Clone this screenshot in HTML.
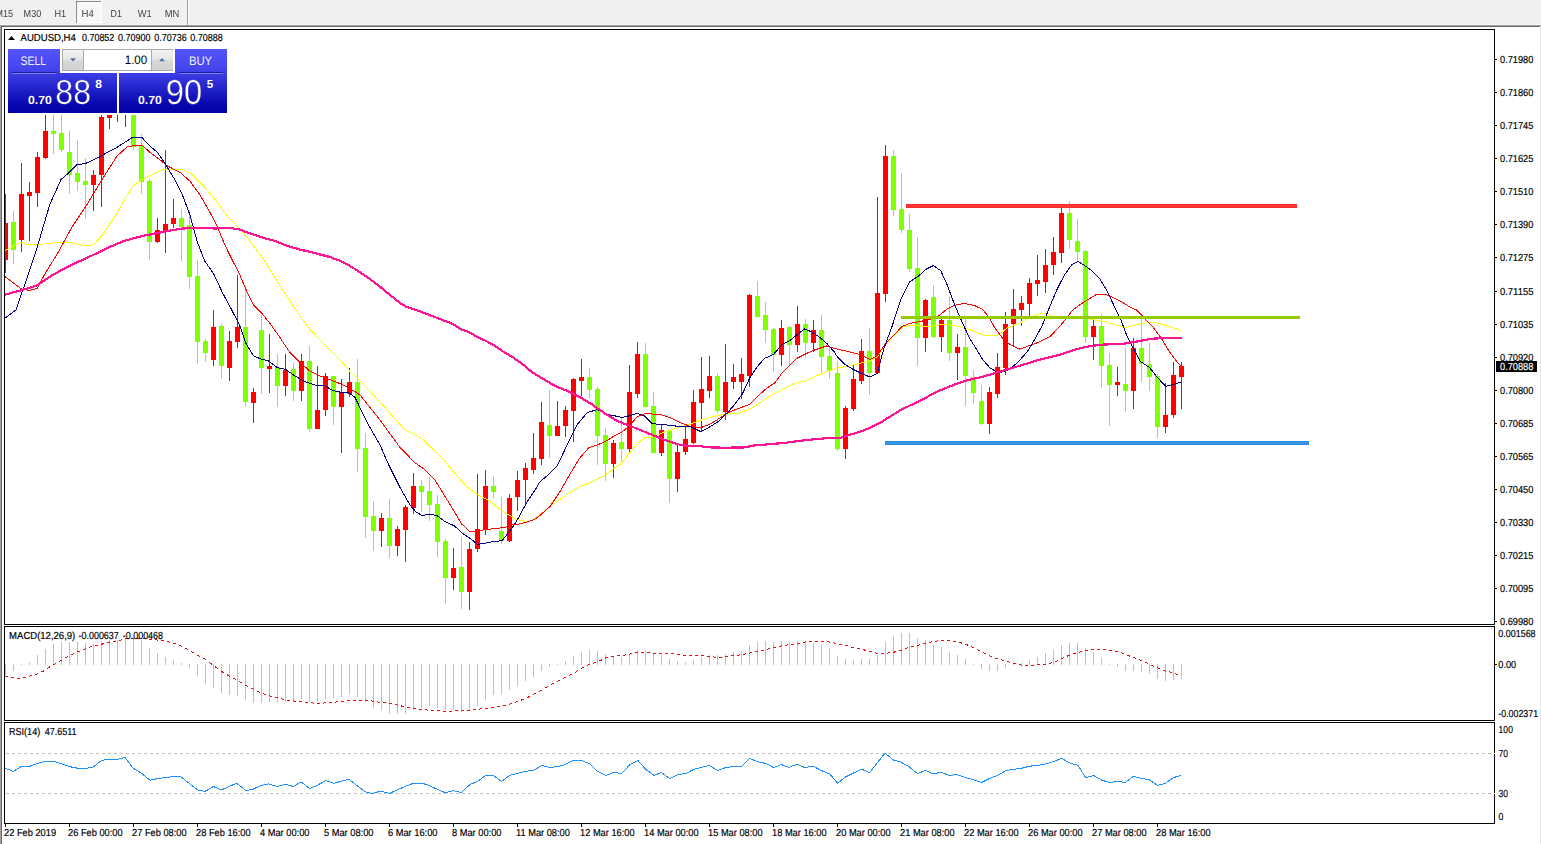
<!DOCTYPE html>
<html><head><meta charset="utf-8"><title>AUDUSD,H4</title>
<style>
html,body{margin:0;padding:0;background:#fff;overflow:hidden}
body{width:1541px;height:844px;position:relative;font-family:"Liberation Sans",sans-serif}
svg{position:absolute;left:0;top:0;display:block}
text{font-family:"Liberation Sans",sans-serif;text-rendering:geometricPrecision}
.ce{shape-rendering:crispEdges}
</style></head><body>
<svg width="1541" height="844" viewBox="0 0 1541 844">
<defs>
<pattern id="chk" width="2" height="2" patternUnits="userSpaceOnUse"><rect width="2" height="2" fill="#f0f0f0"/><rect width="1" height="1" fill="#fff"/><rect x="1" y="1" width="1" height="1" fill="#fff"/></pattern>
<pattern id="dp" x="5" y="0" width="6" height="100" patternUnits="userSpaceOnUse"><rect x="0" y="0" width="3" height="100" fill="#fff"/></pattern>
<mask id="dm" maskUnits="userSpaceOnUse" x="0" y="620" width="1500" height="110"><rect x="0" y="620" width="1500" height="110" fill="url(#dp)"/></mask>
<clipPath id="cm"><rect x="5" y="30" width="1489" height="594"/></clipPath>
<clipPath id="cd"><rect x="5" y="627" width="1489" height="93"/></clipPath>
<clipPath id="cr"><rect x="5" y="723" width="1489" height="100"/></clipPath>
</defs>
<g class="ce">
<rect x="0" y="0" width="1541" height="844" fill="#fff"/>
<rect x="0" y="0" width="1541" height="25" fill="#f0f0f0"/>
<rect x="0" y="24" width="1541" height="1" fill="#f6f6f6"/>
<rect x="0" y="25" width="1541" height="1" fill="#a0a0a0"/>
<rect x="0" y="26" width="1541" height="1" fill="#696969"/>
<rect x="0" y="25" width="1" height="819" fill="#a0a0a0"/>
<rect x="1" y="26" width="1" height="818" fill="#696969"/>
<rect x="1540" y="27" width="1" height="817" fill="#e3e3e3"/>
<rect x="1540" y="26" width="1" height="1" fill="#fff"/>
<rect x="77" y="2" width="24" height="20" fill="url(#chk)"/>
<rect x="76" y="1" width="26" height="1" fill="#8c8c8c"/>
<rect x="76" y="1" width="1" height="22" fill="#8c8c8c"/>
<rect x="101" y="1" width="1" height="22" fill="#fff"/>
<rect x="77" y="22" width="25" height="1" fill="#fff"/>
<rect x="187" y="0" width="1" height="25" fill="#a0a0a0"/>
<rect x="188" y="0" width="1" height="25" fill="#fff"/>
<rect x="4" y="29" width="1491" height="1" fill="#000"/>
<rect x="4" y="29" width="1" height="795" fill="#000"/>
<rect x="1494" y="29" width="1" height="795" fill="#000"/>
<rect x="4" y="624" width="1491" height="1" fill="#000"/>
<rect x="5" y="625" width="1495" height="1" fill="#fff"/>
<rect x="4" y="626" width="1491" height="1" fill="#000"/>
<rect x="4" y="720" width="1491" height="1" fill="#000"/>
<rect x="5" y="721" width="1495" height="1" fill="#fff"/>
<rect x="4" y="722" width="1491" height="1" fill="#000"/>
<rect x="4" y="823" width="1491" height="1" fill="#000"/>
<rect x="4" y="625" width="1" height="1" fill="#fff"/>
<rect x="4" y="721" width="1" height="1" fill="#fff"/>
</g>
<g clip-path="url(#cm)" class="ce">
<rect x="5" y="194" width="1" height="79" fill="#ff0000"/>
<rect x="3" y="223" width="5" height="37" fill="#ff0000"/>
<rect x="13" y="211" width="1" height="53" fill="#7fff00"/>
<rect x="11" y="222" width="5" height="28" fill="#7fff00"/>
<rect x="21" y="163" width="1" height="89" fill="#ff0000"/>
<rect x="19" y="194" width="5" height="46" fill="#ff0000"/>
<rect x="29" y="182" width="1" height="59" fill="#ff0000"/>
<rect x="27" y="192" width="5" height="4" fill="#ff0000"/>
<rect x="37" y="152" width="1" height="55" fill="#ff0000"/>
<rect x="35" y="157" width="5" height="36" fill="#ff0000"/>
<rect x="45" y="100" width="1" height="59" fill="#ff0000"/>
<rect x="43" y="131" width="5" height="27" fill="#ff0000"/>
<rect x="53" y="100" width="1" height="54" fill="#7fff00"/>
<rect x="51" y="131" width="5" height="3" fill="#7fff00"/>
<rect x="61" y="100" width="1" height="52" fill="#7fff00"/>
<rect x="59" y="133" width="5" height="17" fill="#7fff00"/>
<rect x="69" y="131" width="1" height="63" fill="#7fff00"/>
<rect x="67" y="152" width="5" height="23" fill="#7fff00"/>
<rect x="77" y="140" width="1" height="51" fill="#7fff00"/>
<rect x="75" y="173" width="5" height="9" fill="#7fff00"/>
<rect x="85" y="158" width="1" height="61" fill="#7fff00"/>
<rect x="83" y="181" width="5" height="4" fill="#7fff00"/>
<rect x="93" y="170" width="1" height="41" fill="#ff0000"/>
<rect x="91" y="175" width="5" height="10" fill="#ff0000"/>
<rect x="101" y="100" width="1" height="107" fill="#ff0000"/>
<rect x="99" y="117" width="5" height="58" fill="#ff0000"/>
<rect x="109" y="100" width="1" height="29" fill="#ff0000"/>
<rect x="107" y="113" width="5" height="5" fill="#ff0000"/>
<rect x="117" y="100" width="1" height="22" fill="#ff0000"/>
<rect x="115" y="105" width="5" height="1" fill="#ff0000"/>
<rect x="125" y="100" width="1" height="27" fill="#ff0000"/>
<rect x="123" y="105" width="5" height="1" fill="#ff0000"/>
<rect x="133" y="100" width="1" height="50" fill="#7fff00"/>
<rect x="131" y="100" width="5" height="47" fill="#7fff00"/>
<rect x="141" y="134" width="1" height="60" fill="#7fff00"/>
<rect x="139" y="146" width="5" height="36" fill="#7fff00"/>
<rect x="149" y="179" width="1" height="81" fill="#7fff00"/>
<rect x="147" y="181" width="5" height="61" fill="#7fff00"/>
<rect x="157" y="218" width="1" height="25" fill="#ff0000"/>
<rect x="155" y="230" width="5" height="12" fill="#ff0000"/>
<rect x="165" y="150" width="1" height="103" fill="#ff0000"/>
<rect x="163" y="224" width="5" height="7" fill="#ff0000"/>
<rect x="173" y="199" width="1" height="29" fill="#ff0000"/>
<rect x="171" y="218" width="5" height="6" fill="#ff0000"/>
<rect x="181" y="209" width="1" height="52" fill="#7fff00"/>
<rect x="179" y="218" width="5" height="9" fill="#7fff00"/>
<rect x="189" y="210" width="1" height="79" fill="#7fff00"/>
<rect x="187" y="225" width="5" height="52" fill="#7fff00"/>
<rect x="197" y="260" width="1" height="104" fill="#7fff00"/>
<rect x="195" y="276" width="5" height="66" fill="#7fff00"/>
<rect x="205" y="339" width="1" height="23" fill="#7fff00"/>
<rect x="203" y="341" width="5" height="12" fill="#7fff00"/>
<rect x="213" y="310" width="1" height="56" fill="#ff0000"/>
<rect x="211" y="327" width="5" height="33" fill="#ff0000"/>
<rect x="221" y="324" width="1" height="55" fill="#7fff00"/>
<rect x="219" y="326" width="5" height="40" fill="#7fff00"/>
<rect x="229" y="331" width="1" height="50" fill="#ff0000"/>
<rect x="227" y="341" width="5" height="27" fill="#ff0000"/>
<rect x="237" y="275" width="1" height="73" fill="#ff0000"/>
<rect x="235" y="327" width="5" height="15" fill="#ff0000"/>
<rect x="245" y="285" width="1" height="122" fill="#7fff00"/>
<rect x="243" y="327" width="5" height="75" fill="#7fff00"/>
<rect x="253" y="388" width="1" height="35" fill="#ff0000"/>
<rect x="251" y="392" width="5" height="11" fill="#ff0000"/>
<rect x="261" y="315" width="1" height="79" fill="#7fff00"/>
<rect x="259" y="330" width="5" height="38" fill="#7fff00"/>
<rect x="269" y="334" width="1" height="59" fill="#ff0000"/>
<rect x="267" y="366" width="5" height="3" fill="#ff0000"/>
<rect x="277" y="354" width="1" height="53" fill="#7fff00"/>
<rect x="275" y="367" width="5" height="19" fill="#7fff00"/>
<rect x="285" y="354" width="1" height="42" fill="#ff0000"/>
<rect x="283" y="370" width="5" height="16" fill="#ff0000"/>
<rect x="293" y="363" width="1" height="38" fill="#7fff00"/>
<rect x="291" y="369" width="5" height="22" fill="#7fff00"/>
<rect x="301" y="354" width="1" height="47" fill="#ff0000"/>
<rect x="299" y="361" width="5" height="30" fill="#ff0000"/>
<rect x="309" y="346" width="1" height="86" fill="#7fff00"/>
<rect x="307" y="361" width="5" height="68" fill="#7fff00"/>
<rect x="317" y="366" width="1" height="63" fill="#ff0000"/>
<rect x="315" y="410" width="5" height="19" fill="#ff0000"/>
<rect x="325" y="373" width="1" height="43" fill="#ff0000"/>
<rect x="323" y="376" width="5" height="34" fill="#ff0000"/>
<rect x="333" y="376" width="1" height="49" fill="#7fff00"/>
<rect x="331" y="376" width="5" height="31" fill="#7fff00"/>
<rect x="341" y="379" width="1" height="74" fill="#ff0000"/>
<rect x="339" y="392" width="5" height="15" fill="#ff0000"/>
<rect x="349" y="368" width="1" height="29" fill="#ff0000"/>
<rect x="347" y="382" width="5" height="12" fill="#ff0000"/>
<rect x="357" y="359" width="1" height="113" fill="#7fff00"/>
<rect x="355" y="382" width="5" height="67" fill="#7fff00"/>
<rect x="365" y="433" width="1" height="105" fill="#7fff00"/>
<rect x="363" y="448" width="5" height="69" fill="#7fff00"/>
<rect x="373" y="501" width="1" height="50" fill="#7fff00"/>
<rect x="371" y="516" width="5" height="15" fill="#7fff00"/>
<rect x="381" y="513" width="1" height="34" fill="#ff0000"/>
<rect x="379" y="518" width="5" height="13" fill="#ff0000"/>
<rect x="389" y="499" width="1" height="59" fill="#7fff00"/>
<rect x="387" y="518" width="5" height="28" fill="#7fff00"/>
<rect x="397" y="526" width="1" height="30" fill="#ff0000"/>
<rect x="395" y="529" width="5" height="17" fill="#ff0000"/>
<rect x="405" y="505" width="1" height="57" fill="#ff0000"/>
<rect x="403" y="507" width="5" height="23" fill="#ff0000"/>
<rect x="413" y="473" width="1" height="41" fill="#ff0000"/>
<rect x="411" y="486" width="5" height="22" fill="#ff0000"/>
<rect x="421" y="480" width="1" height="32" fill="#7fff00"/>
<rect x="419" y="486" width="5" height="6" fill="#7fff00"/>
<rect x="429" y="477" width="1" height="44" fill="#7fff00"/>
<rect x="427" y="491" width="5" height="14" fill="#7fff00"/>
<rect x="437" y="495" width="1" height="62" fill="#7fff00"/>
<rect x="435" y="504" width="5" height="38" fill="#7fff00"/>
<rect x="445" y="539" width="1" height="65" fill="#7fff00"/>
<rect x="443" y="541" width="5" height="37" fill="#7fff00"/>
<rect x="453" y="548" width="1" height="42" fill="#ff0000"/>
<rect x="451" y="568" width="5" height="10" fill="#ff0000"/>
<rect x="461" y="537" width="1" height="72" fill="#7fff00"/>
<rect x="459" y="567" width="5" height="25" fill="#7fff00"/>
<rect x="469" y="542" width="1" height="68" fill="#ff0000"/>
<rect x="467" y="549" width="5" height="43" fill="#ff0000"/>
<rect x="477" y="474" width="1" height="78" fill="#ff0000"/>
<rect x="475" y="529" width="5" height="20" fill="#ff0000"/>
<rect x="485" y="470" width="1" height="65" fill="#ff0000"/>
<rect x="483" y="486" width="5" height="44" fill="#ff0000"/>
<rect x="493" y="476" width="1" height="22" fill="#7fff00"/>
<rect x="491" y="486" width="5" height="6" fill="#7fff00"/>
<rect x="501" y="497" width="1" height="47" fill="#7fff00"/>
<rect x="499" y="531" width="5" height="10" fill="#7fff00"/>
<rect x="509" y="494" width="1" height="48" fill="#ff0000"/>
<rect x="507" y="498" width="5" height="43" fill="#ff0000"/>
<rect x="517" y="471" width="1" height="40" fill="#ff0000"/>
<rect x="515" y="480" width="5" height="17" fill="#ff0000"/>
<rect x="525" y="463" width="1" height="42" fill="#ff0000"/>
<rect x="523" y="468" width="5" height="12" fill="#ff0000"/>
<rect x="533" y="433" width="1" height="41" fill="#ff0000"/>
<rect x="531" y="458" width="5" height="12" fill="#ff0000"/>
<rect x="541" y="402" width="1" height="63" fill="#ff0000"/>
<rect x="539" y="422" width="5" height="37" fill="#ff0000"/>
<rect x="549" y="390" width="1" height="68" fill="#7fff00"/>
<rect x="547" y="425" width="5" height="11" fill="#7fff00"/>
<rect x="557" y="401" width="1" height="35" fill="#ff0000"/>
<rect x="555" y="426" width="5" height="10" fill="#ff0000"/>
<rect x="565" y="406" width="1" height="31" fill="#ff0000"/>
<rect x="563" y="410" width="5" height="16" fill="#ff0000"/>
<rect x="573" y="378" width="1" height="64" fill="#ff0000"/>
<rect x="571" y="379" width="5" height="32" fill="#ff0000"/>
<rect x="581" y="359" width="1" height="37" fill="#ff0000"/>
<rect x="579" y="377" width="5" height="4" fill="#ff0000"/>
<rect x="589" y="368" width="1" height="30" fill="#7fff00"/>
<rect x="587" y="377" width="5" height="13" fill="#7fff00"/>
<rect x="597" y="387" width="1" height="78" fill="#7fff00"/>
<rect x="595" y="389" width="5" height="47" fill="#7fff00"/>
<rect x="605" y="428" width="1" height="53" fill="#7fff00"/>
<rect x="603" y="435" width="5" height="29" fill="#7fff00"/>
<rect x="613" y="440" width="1" height="38" fill="#ff0000"/>
<rect x="611" y="443" width="5" height="21" fill="#ff0000"/>
<rect x="621" y="417" width="1" height="45" fill="#7fff00"/>
<rect x="619" y="442" width="5" height="7" fill="#7fff00"/>
<rect x="629" y="365" width="1" height="88" fill="#ff0000"/>
<rect x="627" y="392" width="5" height="57" fill="#ff0000"/>
<rect x="637" y="342" width="1" height="56" fill="#ff0000"/>
<rect x="635" y="354" width="5" height="40" fill="#ff0000"/>
<rect x="645" y="343" width="1" height="64" fill="#7fff00"/>
<rect x="643" y="354" width="5" height="53" fill="#7fff00"/>
<rect x="653" y="392" width="1" height="61" fill="#7fff00"/>
<rect x="651" y="406" width="5" height="47" fill="#7fff00"/>
<rect x="661" y="424" width="1" height="32" fill="#ff0000"/>
<rect x="659" y="430" width="5" height="23" fill="#ff0000"/>
<rect x="669" y="430" width="1" height="73" fill="#7fff00"/>
<rect x="667" y="431" width="5" height="48" fill="#7fff00"/>
<rect x="677" y="444" width="1" height="48" fill="#ff0000"/>
<rect x="675" y="452" width="5" height="27" fill="#ff0000"/>
<rect x="685" y="427" width="1" height="28" fill="#ff0000"/>
<rect x="683" y="439" width="5" height="13" fill="#ff0000"/>
<rect x="693" y="390" width="1" height="54" fill="#ff0000"/>
<rect x="691" y="402" width="5" height="41" fill="#ff0000"/>
<rect x="701" y="357" width="1" height="75" fill="#ff0000"/>
<rect x="699" y="389" width="5" height="14" fill="#ff0000"/>
<rect x="709" y="356" width="1" height="42" fill="#ff0000"/>
<rect x="707" y="376" width="5" height="15" fill="#ff0000"/>
<rect x="717" y="373" width="1" height="40" fill="#7fff00"/>
<rect x="715" y="376" width="5" height="35" fill="#7fff00"/>
<rect x="725" y="344" width="1" height="76" fill="#ff0000"/>
<rect x="723" y="382" width="5" height="30" fill="#ff0000"/>
<rect x="733" y="364" width="1" height="25" fill="#ff0000"/>
<rect x="731" y="377" width="5" height="5" fill="#ff0000"/>
<rect x="741" y="358" width="1" height="41" fill="#ff0000"/>
<rect x="739" y="374" width="5" height="8" fill="#ff0000"/>
<rect x="749" y="294" width="1" height="93" fill="#ff0000"/>
<rect x="747" y="295" width="5" height="81" fill="#ff0000"/>
<rect x="757" y="281" width="1" height="36" fill="#7fff00"/>
<rect x="755" y="296" width="5" height="21" fill="#7fff00"/>
<rect x="765" y="302" width="1" height="41" fill="#7fff00"/>
<rect x="763" y="315" width="5" height="15" fill="#7fff00"/>
<rect x="773" y="328" width="1" height="44" fill="#7fff00"/>
<rect x="771" y="329" width="5" height="26" fill="#7fff00"/>
<rect x="781" y="320" width="1" height="46" fill="#ff0000"/>
<rect x="779" y="328" width="5" height="27" fill="#ff0000"/>
<rect x="789" y="326" width="1" height="40" fill="#7fff00"/>
<rect x="787" y="327" width="5" height="18" fill="#7fff00"/>
<rect x="797" y="306" width="1" height="46" fill="#ff0000"/>
<rect x="795" y="324" width="5" height="21" fill="#ff0000"/>
<rect x="805" y="319" width="1" height="39" fill="#7fff00"/>
<rect x="803" y="324" width="5" height="19" fill="#7fff00"/>
<rect x="813" y="320" width="1" height="32" fill="#ff0000"/>
<rect x="811" y="330" width="5" height="13" fill="#ff0000"/>
<rect x="821" y="315" width="1" height="58" fill="#7fff00"/>
<rect x="819" y="330" width="5" height="27" fill="#7fff00"/>
<rect x="829" y="346" width="1" height="33" fill="#7fff00"/>
<rect x="827" y="356" width="5" height="15" fill="#7fff00"/>
<rect x="837" y="361" width="1" height="90" fill="#7fff00"/>
<rect x="835" y="373" width="5" height="76" fill="#7fff00"/>
<rect x="845" y="406" width="1" height="53" fill="#ff0000"/>
<rect x="843" y="408" width="5" height="41" fill="#ff0000"/>
<rect x="853" y="365" width="1" height="46" fill="#ff0000"/>
<rect x="851" y="379" width="5" height="30" fill="#ff0000"/>
<rect x="861" y="339" width="1" height="45" fill="#ff0000"/>
<rect x="859" y="351" width="5" height="30" fill="#ff0000"/>
<rect x="869" y="328" width="1" height="67" fill="#7fff00"/>
<rect x="867" y="351" width="5" height="22" fill="#7fff00"/>
<rect x="877" y="197" width="1" height="176" fill="#ff0000"/>
<rect x="875" y="293" width="5" height="80" fill="#ff0000"/>
<rect x="885" y="145" width="1" height="157" fill="#ff0000"/>
<rect x="883" y="156" width="5" height="138" fill="#ff0000"/>
<rect x="893" y="150" width="1" height="66" fill="#7fff00"/>
<rect x="891" y="156" width="5" height="54" fill="#7fff00"/>
<rect x="901" y="173" width="1" height="60" fill="#7fff00"/>
<rect x="899" y="209" width="5" height="21" fill="#7fff00"/>
<rect x="909" y="214" width="1" height="58" fill="#7fff00"/>
<rect x="907" y="230" width="5" height="39" fill="#7fff00"/>
<rect x="917" y="237" width="1" height="129" fill="#7fff00"/>
<rect x="915" y="268" width="5" height="70" fill="#7fff00"/>
<rect x="925" y="299" width="1" height="53" fill="#ff0000"/>
<rect x="923" y="300" width="5" height="38" fill="#ff0000"/>
<rect x="933" y="285" width="1" height="53" fill="#7fff00"/>
<rect x="931" y="297" width="5" height="40" fill="#7fff00"/>
<rect x="941" y="318" width="1" height="34" fill="#ff0000"/>
<rect x="939" y="320" width="5" height="17" fill="#ff0000"/>
<rect x="949" y="296" width="1" height="65" fill="#7fff00"/>
<rect x="947" y="320" width="5" height="33" fill="#7fff00"/>
<rect x="957" y="334" width="1" height="46" fill="#ff0000"/>
<rect x="955" y="347" width="5" height="6" fill="#ff0000"/>
<rect x="965" y="318" width="1" height="88" fill="#7fff00"/>
<rect x="963" y="347" width="5" height="29" fill="#7fff00"/>
<rect x="973" y="370" width="1" height="34" fill="#7fff00"/>
<rect x="971" y="377" width="5" height="16" fill="#7fff00"/>
<rect x="981" y="385" width="1" height="40" fill="#7fff00"/>
<rect x="979" y="401" width="5" height="23" fill="#7fff00"/>
<rect x="989" y="387" width="1" height="47" fill="#ff0000"/>
<rect x="987" y="392" width="5" height="32" fill="#ff0000"/>
<rect x="997" y="353" width="1" height="45" fill="#ff0000"/>
<rect x="995" y="367" width="5" height="27" fill="#ff0000"/>
<rect x="1005" y="312" width="1" height="63" fill="#ff0000"/>
<rect x="1003" y="324" width="5" height="44" fill="#ff0000"/>
<rect x="1013" y="289" width="1" height="57" fill="#ff0000"/>
<rect x="1011" y="309" width="5" height="15" fill="#ff0000"/>
<rect x="1021" y="296" width="1" height="30" fill="#ff0000"/>
<rect x="1019" y="303" width="5" height="7" fill="#ff0000"/>
<rect x="1029" y="278" width="1" height="38" fill="#ff0000"/>
<rect x="1027" y="283" width="5" height="21" fill="#ff0000"/>
<rect x="1037" y="255" width="1" height="41" fill="#ff0000"/>
<rect x="1035" y="280" width="5" height="4" fill="#ff0000"/>
<rect x="1045" y="249" width="1" height="44" fill="#ff0000"/>
<rect x="1043" y="265" width="5" height="17" fill="#ff0000"/>
<rect x="1053" y="237" width="1" height="38" fill="#ff0000"/>
<rect x="1051" y="252" width="5" height="13" fill="#ff0000"/>
<rect x="1061" y="207" width="1" height="56" fill="#ff0000"/>
<rect x="1059" y="213" width="5" height="40" fill="#ff0000"/>
<rect x="1069" y="201" width="1" height="48" fill="#7fff00"/>
<rect x="1067" y="213" width="5" height="27" fill="#7fff00"/>
<rect x="1077" y="219" width="1" height="42" fill="#7fff00"/>
<rect x="1075" y="241" width="5" height="11" fill="#7fff00"/>
<rect x="1085" y="250" width="1" height="93" fill="#7fff00"/>
<rect x="1083" y="251" width="5" height="86" fill="#7fff00"/>
<rect x="1093" y="320" width="1" height="40" fill="#ff0000"/>
<rect x="1091" y="326" width="5" height="11" fill="#ff0000"/>
<rect x="1101" y="314" width="1" height="74" fill="#7fff00"/>
<rect x="1099" y="326" width="5" height="40" fill="#7fff00"/>
<rect x="1109" y="353" width="1" height="73" fill="#7fff00"/>
<rect x="1107" y="365" width="5" height="20" fill="#7fff00"/>
<rect x="1117" y="367" width="1" height="29" fill="#ff0000"/>
<rect x="1115" y="382" width="5" height="3" fill="#ff0000"/>
<rect x="1125" y="348" width="1" height="64" fill="#7fff00"/>
<rect x="1123" y="384" width="5" height="7" fill="#7fff00"/>
<rect x="1133" y="338" width="1" height="71" fill="#ff0000"/>
<rect x="1131" y="348" width="5" height="43" fill="#ff0000"/>
<rect x="1141" y="318" width="1" height="64" fill="#7fff00"/>
<rect x="1139" y="348" width="5" height="16" fill="#7fff00"/>
<rect x="1149" y="343" width="1" height="48" fill="#7fff00"/>
<rect x="1147" y="364" width="5" height="13" fill="#7fff00"/>
<rect x="1157" y="374" width="1" height="64" fill="#7fff00"/>
<rect x="1155" y="376" width="5" height="51" fill="#7fff00"/>
<rect x="1165" y="383" width="1" height="50" fill="#ff0000"/>
<rect x="1163" y="415" width="5" height="12" fill="#ff0000"/>
<rect x="1173" y="362" width="1" height="56" fill="#ff0000"/>
<rect x="1171" y="375" width="5" height="40" fill="#ff0000"/>
<rect x="1181" y="362" width="1" height="47" fill="#ff0000"/>
<rect x="1179" y="366" width="5" height="11" fill="#ff0000"/>
<polyline points="5.0,250.5 21.0,242.0 27.0,244.8 44.8,244.0 62.0,242.0 69.7,242.0 84.6,246.0 93.0,244.8 102.0,235.6 117.0,213.0 132.0,187.0 142.0,179.6 150.0,175.5 162.4,169.8 174.9,169.0 182.3,169.8 192.3,174.8 204.7,187.2 217.0,202.0 227.0,215.8 239.6,228.3 249.5,240.7 262.0,256.9 274.4,276.8 286.9,296.7 296.8,311.0 306.9,325.9 319.4,339.6 331.8,352.0 340.0,360.0 349.9,371.2 359.9,381.0 372.3,393.6 384.7,407.3 394.7,418.5 404.6,429.7 417.0,435.9 424.6,440.9 434.5,450.8 444.5,460.8 454.6,473.3 467.3,487.2 477.2,494.6 487.2,499.6 497.0,507.0 507.0,514.0 517.0,519.5 524.5,521.5 532.0,520.8 542.4,512.5 554.9,502.9 567.3,494.2 579.8,486.7 592.2,481.7 604.6,475.5 614.6,468.0 622.0,463.0 629.5,453.0 637.0,443.9 644.5,438.0 651.9,436.9 661.9,433.2 671.8,429.5 681.8,426.5 690.0,424.3 699.9,420.5 712.3,416.8 724.8,414.3 739.7,413.0 752.0,408.0 764.6,399.4 777.0,391.9 787.0,387.0 796.9,382.5 806.9,380.7 816.9,375.7 826.8,371.5 840.0,367.5 850.0,365.8 859.9,363.4 869.8,360.9 877.3,357.0 883.5,347.0 892.2,337.0 902.0,327.8 909.6,325.3 919.6,325.8 929.5,326.6 942.0,324.6 954.4,325.3 964.4,327.8 974.3,331.4 985.0,335.6 997.4,335.6 1007.3,328.0 1017.3,324.4 1027.3,318.9 1037.2,314.4 1045.9,313.2 1052.0,316.0 1060.0,317.0 1072.0,317.5 1082.0,317.6 1092.0,319.6 1100.0,320.6 1108.2,322.2 1116.3,325.2 1125.3,327.3 1134.4,325.2 1144.5,323.2 1152.5,322.2 1160.6,323.8 1168.6,326.3 1176.7,328.7 1180.7,330.3" fill="none" stroke="#ffff00" stroke-width="1" stroke-linejoin="round"/>
<polyline points="5.0,276.7 15.0,284.0 22.4,289.6 29.9,290.3 37.3,288.4 44.8,274.0 57.2,254.0 72.0,227.0 87.0,204.5 102.0,179.6 117.0,156.0 127.0,147.0 134.4,145.5 143.0,146.0 150.0,152.4 160.0,159.9 167.4,166.0 179.9,172.3 189.8,181.0 199.8,194.7 209.7,212.0 217.0,225.8 224.6,244.5 232.3,260.0 239.8,274.9 247.2,292.3 253.4,304.8 262.0,313.5 270.9,324.7 279.6,337.0 289.5,352.0 299.5,362.0 309.4,370.7 319.4,375.7 329.3,379.4 340.0,383.6 349.9,388.6 359.9,394.8 369.8,407.3 379.8,419.7 389.7,433.4 399.7,447.0 414.6,462.5 424.6,469.5 434.5,479.4 444.5,495.6 454.4,511.8 461.9,524.2 469.3,531.2 476.8,532.2 484.7,529.5 494.6,528.7 504.6,527.5 512.0,525.0 519.5,524.0 527.0,522.0 534.5,519.5 540.0,515.3 549.9,506.6 559.9,491.7 569.8,474.3 579.8,458.0 588.5,448.0 597.2,445.0 607.0,440.7 614.6,435.7 622.0,432.0 629.5,425.7 637.0,417.0 644.5,413.8 651.9,414.0 661.9,415.0 671.8,418.3 681.8,423.3 690.0,426.3 699.9,428.0 709.9,424.3 719.8,418.0 729.8,411.8 739.7,408.0 749.7,404.4 759.6,394.4 767.0,388.0 774.6,383.0 782.0,373.0 789.5,365.8 796.9,358.3 804.4,354.6 811.9,350.9 819.3,348.4 826.8,345.9 834.3,348.4 840.0,349.7 850.0,352.0 859.9,354.6 869.8,359.6 877.3,355.9 884.7,344.7 893.4,335.5 902.0,326.6 909.6,323.4 919.6,321.6 929.5,319.6 939.5,315.4 946.9,309.0 954.4,305.4 964.4,303.4 974.3,305.4 982.5,309.4 988.7,316.9 994.9,328.0 1002.4,338.0 1009.8,344.3 1019.8,349.2 1029.7,345.5 1039.7,341.8 1049.6,336.8 1057.0,329.3 1064.6,320.6 1072.0,310.7 1079.5,305.0 1088.0,299.5 1096.0,294.8 1104.2,294.0 1112.2,297.0 1120.3,301.0 1128.3,306.0 1136.4,310.0 1144.5,318.2 1152.5,326.3 1160.6,337.3 1168.6,350.4 1176.7,361.5 1181.3,366.0" fill="none" stroke="#ff0000" stroke-width="1" stroke-linejoin="round"/>
<polyline points="5.0,318.0 16.0,310.0 24.9,284.0 37.3,246.8 49.8,204.5 61.0,179.6 69.7,172.0 77.0,164.7 85.8,163.4 99.5,156.7 117.0,147.3 131.9,137.8 141.8,137.3 150.0,146.2 157.5,152.4 165.0,163.6 174.9,179.8 182.3,194.7 189.8,214.6 197.3,242.0 204.7,261.0 213.6,273.7 222.3,292.3 232.3,311.0 239.8,325.9 246.0,343.4 253.4,355.8 260.9,359.0 268.4,360.8 277.0,367.5 285.8,369.5 294.5,375.7 304.5,381.4 316.9,385.7 324.4,385.7 333.0,390.6 341.8,392.5 348.7,392.8 354.9,397.3 362.3,412.3 369.8,427.2 379.8,444.6 389.7,467.0 399.7,486.9 409.6,504.3 415.8,511.8 422.0,515.5 429.5,514.3 437.0,515.5 444.5,521.2 454.6,526.0 462.3,533.2 469.8,538.2 477.7,544.4 484.7,543.2 494.6,541.4 502.0,540.7 507.0,534.5 514.5,524.5 519.5,515.8 527.0,502.0 534.5,490.9 540.0,481.7 547.4,475.5 557.4,465.6 567.3,444.4 577.3,424.5 587.2,412.6 597.2,409.6 607.0,414.6 614.6,415.8 622.0,417.5 629.5,415.8 637.0,413.3 644.5,415.8 651.9,423.3 659.4,424.5 669.3,425.2 679.3,426.5 690.0,426.3 701.0,431.7 709.9,426.8 719.8,420.5 727.3,413.0 734.7,404.4 742.2,394.4 749.7,378.0 757.0,367.0 764.6,358.3 773.3,354.6 782.0,344.6 789.5,340.9 796.9,334.7 804.4,329.0 811.9,332.0 819.3,337.0 826.8,343.4 834.3,352.0 837.5,357.0 845.0,364.6 853.6,369.6 861.0,373.3 869.8,377.0 877.3,373.3 883.5,349.7 892.2,326.0 900.9,299.0 909.6,281.8 918.3,276.3 925.8,269.4 933.3,265.6 940.7,270.6 946.9,284.3 954.4,304.2 961.9,321.6 969.3,337.8 975.0,346.8 982.5,359.2 990.0,368.0 998.6,372.9 1007.3,370.4 1017.3,363.0 1027.3,351.7 1034.7,339.3 1042.2,325.6 1049.6,307.0 1057.0,289.5 1064.6,274.6 1072.0,264.6 1077.8,261.4 1084.5,265.4 1092.0,270.9 1099.4,278.3 1106.9,290.5 1113.2,304.0 1120.3,318.2 1126.3,334.3 1133.4,348.4 1140.4,361.5 1149.5,367.5 1157.5,377.6 1165.6,386.3 1173.7,384.3 1180.7,382.2" fill="none" stroke="#000080" stroke-width="1" stroke-linejoin="round"/>
<polyline points="5.0,294.6 22.4,290.0 37.0,285.4 49.8,276.7 62.0,269.7 74.6,263.5 92.0,255.5 109.5,247.0 124.0,241.0 142.0,236.0 150.0,234.5 165.0,231.5 182.3,228.5 199.8,227.8 214.7,228.5 229.6,227.8 239.6,229.5 249.5,233.3 262.0,237.5 274.4,240.7 286.9,245.7 299.3,249.4 310.0,251.9 320.0,254.5 330.0,257.0 340.0,260.8 349.9,265.8 359.9,272.4 369.8,279.0 379.8,286.5 389.7,294.8 399.7,302.7 405.5,306.4 412.9,308.9 422.9,312.5 432.8,316.3 442.8,320.1 452.7,323.8 461.0,329.3 469.3,332.1 477.6,337.1 485.9,340.9 494.2,345.4 502.5,351.2 512.4,357.0 522.4,364.1 532.3,372.4 542.4,378.5 554.9,385.9 567.3,390.9 579.8,397.0 592.2,404.6 604.6,413.3 617.0,420.8 629.5,425.7 642.0,430.7 654.4,435.7 666.9,440.7 679.3,444.6 685.0,445.5 690.0,445.8 699.9,446.2 709.9,447.4 724.8,447.7 744.7,447.4 754.6,445.4 769.6,444.2 784.5,442.9 799.4,440.9 814.4,439.2 826.8,438.2 840.0,438.0 850.0,434.8 859.9,431.8 869.8,428.0 879.8,423.0 889.7,416.8 899.7,410.6 909.6,405.7 919.6,401.0 929.5,395.7 939.5,390.7 949.4,386.5 959.4,382.8 969.3,379.8 979.3,377.5 987.4,375.4 999.9,371.6 1012.3,367.9 1024.8,364.2 1037.2,360.4 1049.6,357.2 1062.0,354.2 1074.5,349.7 1087.0,346.8 1099.4,344.8 1111.8,344.2 1124.3,343.6 1134.4,342.0 1144.5,340.0 1152.5,338.7 1164.6,338.0 1181.7,337.7" fill="none" stroke="#ff1493" stroke-width="2.2" stroke-linejoin="round"/>
<rect x="906" y="204" width="391" height="4" fill="#fa2c2c"/>
<rect x="906" y="205" width="391" height="2" fill="#f83838"/>
<rect x="901" y="316" width="399" height="3" fill="#96ca00"/>
<rect x="901" y="317" width="399" height="1" fill="#9acc04"/>
<rect x="885" y="441" width="424" height="4" fill="#2a8ae0"/>
<rect x="885" y="442" width="424" height="2" fill="#3a94e4"/>
</g>
<g clip-path="url(#cd)" class="ce">
<rect x="5" y="664" width="1" height="11" fill="#c0c0c0"/>
<rect x="13" y="664" width="1" height="7" fill="#c0c0c0"/>
<rect x="21" y="664" width="1" height="1" fill="#c0c0c0"/>
<rect x="29" y="662" width="1" height="3" fill="#c0c0c0"/>
<rect x="37" y="655" width="1" height="10" fill="#c0c0c0"/>
<rect x="45" y="649" width="1" height="16" fill="#c0c0c0"/>
<rect x="53" y="644" width="1" height="21" fill="#c0c0c0"/>
<rect x="61" y="642" width="1" height="23" fill="#c0c0c0"/>
<rect x="69" y="642" width="1" height="23" fill="#c0c0c0"/>
<rect x="77" y="642" width="1" height="23" fill="#c0c0c0"/>
<rect x="85" y="643" width="1" height="22" fill="#c0c0c0"/>
<rect x="93" y="644" width="1" height="21" fill="#c0c0c0"/>
<rect x="101" y="641" width="1" height="24" fill="#c0c0c0"/>
<rect x="109" y="640" width="1" height="25" fill="#c0c0c0"/>
<rect x="117" y="640" width="1" height="25" fill="#c0c0c0"/>
<rect x="125" y="639" width="1" height="26" fill="#c0c0c0"/>
<rect x="133" y="639" width="1" height="26" fill="#c0c0c0"/>
<rect x="141" y="640" width="1" height="25" fill="#c0c0c0"/>
<rect x="149" y="648" width="1" height="17" fill="#c0c0c0"/>
<rect x="157" y="653" width="1" height="12" fill="#c0c0c0"/>
<rect x="165" y="657" width="1" height="8" fill="#c0c0c0"/>
<rect x="173" y="660" width="1" height="5" fill="#c0c0c0"/>
<rect x="181" y="663" width="1" height="2" fill="#c0c0c0"/>
<rect x="189" y="664" width="1" height="4" fill="#c0c0c0"/>
<rect x="197" y="664" width="1" height="12" fill="#c0c0c0"/>
<rect x="205" y="664" width="1" height="20" fill="#c0c0c0"/>
<rect x="213" y="664" width="1" height="24" fill="#c0c0c0"/>
<rect x="221" y="664" width="1" height="29" fill="#c0c0c0"/>
<rect x="229" y="664" width="1" height="31" fill="#c0c0c0"/>
<rect x="237" y="664" width="1" height="32" fill="#c0c0c0"/>
<rect x="245" y="664" width="1" height="36" fill="#c0c0c0"/>
<rect x="253" y="664" width="1" height="39" fill="#c0c0c0"/>
<rect x="261" y="664" width="1" height="39" fill="#c0c0c0"/>
<rect x="269" y="664" width="1" height="38" fill="#c0c0c0"/>
<rect x="277" y="664" width="1" height="38" fill="#c0c0c0"/>
<rect x="285" y="664" width="1" height="38" fill="#c0c0c0"/>
<rect x="293" y="664" width="1" height="38" fill="#c0c0c0"/>
<rect x="301" y="664" width="1" height="35" fill="#c0c0c0"/>
<rect x="309" y="664" width="1" height="38" fill="#c0c0c0"/>
<rect x="317" y="664" width="1" height="38" fill="#c0c0c0"/>
<rect x="325" y="664" width="1" height="35" fill="#c0c0c0"/>
<rect x="333" y="664" width="1" height="34" fill="#c0c0c0"/>
<rect x="341" y="664" width="1" height="33" fill="#c0c0c0"/>
<rect x="349" y="664" width="1" height="30" fill="#c0c0c0"/>
<rect x="357" y="664" width="1" height="33" fill="#c0c0c0"/>
<rect x="365" y="664" width="1" height="38" fill="#c0c0c0"/>
<rect x="373" y="664" width="1" height="44" fill="#c0c0c0"/>
<rect x="381" y="664" width="1" height="46" fill="#c0c0c0"/>
<rect x="389" y="664" width="1" height="50" fill="#c0c0c0"/>
<rect x="397" y="664" width="1" height="50" fill="#c0c0c0"/>
<rect x="405" y="664" width="1" height="50" fill="#c0c0c0"/>
<rect x="413" y="664" width="1" height="46" fill="#c0c0c0"/>
<rect x="421" y="664" width="1" height="44" fill="#c0c0c0"/>
<rect x="429" y="664" width="1" height="42" fill="#c0c0c0"/>
<rect x="437" y="664" width="1" height="44" fill="#c0c0c0"/>
<rect x="445" y="664" width="1" height="46" fill="#c0c0c0"/>
<rect x="453" y="664" width="1" height="46" fill="#c0c0c0"/>
<rect x="461" y="664" width="1" height="48" fill="#c0c0c0"/>
<rect x="469" y="664" width="1" height="46" fill="#c0c0c0"/>
<rect x="477" y="664" width="1" height="42" fill="#c0c0c0"/>
<rect x="485" y="664" width="1" height="36" fill="#c0c0c0"/>
<rect x="493" y="664" width="1" height="31" fill="#c0c0c0"/>
<rect x="501" y="664" width="1" height="30" fill="#c0c0c0"/>
<rect x="509" y="664" width="1" height="26" fill="#c0c0c0"/>
<rect x="517" y="664" width="1" height="22" fill="#c0c0c0"/>
<rect x="525" y="664" width="1" height="17" fill="#c0c0c0"/>
<rect x="533" y="664" width="1" height="13" fill="#c0c0c0"/>
<rect x="541" y="664" width="1" height="7" fill="#c0c0c0"/>
<rect x="549" y="664" width="1" height="3" fill="#c0c0c0"/>
<rect x="557" y="664" width="1" height="1" fill="#c0c0c0"/>
<rect x="565" y="661" width="1" height="4" fill="#c0c0c0"/>
<rect x="573" y="656" width="1" height="9" fill="#c0c0c0"/>
<rect x="581" y="652" width="1" height="13" fill="#c0c0c0"/>
<rect x="589" y="650" width="1" height="15" fill="#c0c0c0"/>
<rect x="597" y="651" width="1" height="14" fill="#c0c0c0"/>
<rect x="605" y="654" width="1" height="11" fill="#c0c0c0"/>
<rect x="613" y="657" width="1" height="8" fill="#c0c0c0"/>
<rect x="621" y="657" width="1" height="8" fill="#c0c0c0"/>
<rect x="629" y="655" width="1" height="10" fill="#c0c0c0"/>
<rect x="637" y="650" width="1" height="15" fill="#c0c0c0"/>
<rect x="645" y="650" width="1" height="15" fill="#c0c0c0"/>
<rect x="653" y="654" width="1" height="11" fill="#c0c0c0"/>
<rect x="661" y="655" width="1" height="10" fill="#c0c0c0"/>
<rect x="669" y="659" width="1" height="6" fill="#c0c0c0"/>
<rect x="677" y="661" width="1" height="4" fill="#c0c0c0"/>
<rect x="685" y="662" width="1" height="3" fill="#c0c0c0"/>
<rect x="693" y="660" width="1" height="5" fill="#c0c0c0"/>
<rect x="701" y="657" width="1" height="8" fill="#c0c0c0"/>
<rect x="709" y="655" width="1" height="10" fill="#c0c0c0"/>
<rect x="717" y="655" width="1" height="10" fill="#c0c0c0"/>
<rect x="725" y="654" width="1" height="11" fill="#c0c0c0"/>
<rect x="733" y="652" width="1" height="13" fill="#c0c0c0"/>
<rect x="741" y="651" width="1" height="14" fill="#c0c0c0"/>
<rect x="749" y="645" width="1" height="20" fill="#c0c0c0"/>
<rect x="757" y="642" width="1" height="23" fill="#c0c0c0"/>
<rect x="765" y="641" width="1" height="24" fill="#c0c0c0"/>
<rect x="773" y="642" width="1" height="23" fill="#c0c0c0"/>
<rect x="781" y="641" width="1" height="24" fill="#c0c0c0"/>
<rect x="789" y="642" width="1" height="23" fill="#c0c0c0"/>
<rect x="797" y="641" width="1" height="24" fill="#c0c0c0"/>
<rect x="805" y="642" width="1" height="23" fill="#c0c0c0"/>
<rect x="813" y="643" width="1" height="22" fill="#c0c0c0"/>
<rect x="821" y="645" width="1" height="20" fill="#c0c0c0"/>
<rect x="829" y="648" width="1" height="17" fill="#c0c0c0"/>
<rect x="837" y="656" width="1" height="9" fill="#c0c0c0"/>
<rect x="845" y="659" width="1" height="6" fill="#c0c0c0"/>
<rect x="853" y="660" width="1" height="5" fill="#c0c0c0"/>
<rect x="861" y="659" width="1" height="6" fill="#c0c0c0"/>
<rect x="869" y="659" width="1" height="6" fill="#c0c0c0"/>
<rect x="877" y="655" width="1" height="10" fill="#c0c0c0"/>
<rect x="885" y="642" width="1" height="23" fill="#c0c0c0"/>
<rect x="893" y="636" width="1" height="29" fill="#c0c0c0"/>
<rect x="901" y="633" width="1" height="32" fill="#c0c0c0"/>
<rect x="909" y="633" width="1" height="32" fill="#c0c0c0"/>
<rect x="917" y="638" width="1" height="27" fill="#c0c0c0"/>
<rect x="925" y="640" width="1" height="25" fill="#c0c0c0"/>
<rect x="933" y="645" width="1" height="20" fill="#c0c0c0"/>
<rect x="941" y="647" width="1" height="18" fill="#c0c0c0"/>
<rect x="949" y="652" width="1" height="13" fill="#c0c0c0"/>
<rect x="957" y="655" width="1" height="10" fill="#c0c0c0"/>
<rect x="965" y="659" width="1" height="6" fill="#c0c0c0"/>
<rect x="973" y="664" width="1" height="1" fill="#c0c0c0"/>
<rect x="981" y="664" width="1" height="5" fill="#c0c0c0"/>
<rect x="989" y="664" width="1" height="7" fill="#c0c0c0"/>
<rect x="997" y="664" width="1" height="7" fill="#c0c0c0"/>
<rect x="1005" y="664" width="1" height="4" fill="#c0c0c0"/>
<rect x="1013" y="663" width="1" height="2" fill="#c0c0c0"/>
<rect x="1021" y="663" width="1" height="2" fill="#c0c0c0"/>
<rect x="1029" y="660" width="1" height="5" fill="#c0c0c0"/>
<rect x="1037" y="657" width="1" height="8" fill="#c0c0c0"/>
<rect x="1045" y="653" width="1" height="12" fill="#c0c0c0"/>
<rect x="1053" y="650" width="1" height="15" fill="#c0c0c0"/>
<rect x="1061" y="645" width="1" height="20" fill="#c0c0c0"/>
<rect x="1069" y="643" width="1" height="22" fill="#c0c0c0"/>
<rect x="1077" y="643" width="1" height="22" fill="#c0c0c0"/>
<rect x="1085" y="648" width="1" height="17" fill="#c0c0c0"/>
<rect x="1093" y="652" width="1" height="13" fill="#c0c0c0"/>
<rect x="1101" y="658" width="1" height="7" fill="#c0c0c0"/>
<rect x="1109" y="664" width="1" height="1" fill="#c0c0c0"/>
<rect x="1117" y="664" width="1" height="3" fill="#c0c0c0"/>
<rect x="1125" y="664" width="1" height="7" fill="#c0c0c0"/>
<rect x="1133" y="664" width="1" height="7" fill="#c0c0c0"/>
<rect x="1141" y="664" width="1" height="8" fill="#c0c0c0"/>
<rect x="1149" y="664" width="1" height="10" fill="#c0c0c0"/>
<rect x="1157" y="664" width="1" height="15" fill="#c0c0c0"/>
<rect x="1165" y="664" width="1" height="17" fill="#c0c0c0"/>
<rect x="1173" y="664" width="1" height="16" fill="#c0c0c0"/>
<rect x="1181" y="664" width="1" height="15" fill="#c0c0c0"/>
<polyline points="5.0,676.3 12.0,677.3 19.0,678.3 26.0,677.3 36.0,674.3 43.0,671.3 52.3,665.3 60.0,661.2 68.4,656.2 76.4,652.2 84.5,649.2 92.5,646.0 100.6,644.5 108.6,642.5 116.7,641.0 124.7,639.0 132.8,638.7 140.8,638.5 148.9,639.0 156.9,640.0 165.0,641.0 173.0,643.0 181.0,646.0 189.0,650.0 197.0,655.0 205.0,659.0 213.0,665.0 221.0,671.0 229.0,676.0 237.0,680.0 245.0,685.0 253.0,689.0 261.0,693.0 269.6,696.0 277.6,698.0 285.7,700.0 293.7,701.0 301.8,702.0 318.0,703.5 336.0,702.0 348.0,700.5 360.0,700.0 372.4,701.0 380.5,702.5 390.5,703.5 398.6,705.5 406.6,706.9 414.7,708.5 422.7,709.5 430.8,710.5 440.8,711.0 452.9,711.0 465.0,710.9 473.0,709.9 481.0,708.9 489.0,707.9 499.0,706.5 509.0,704.5 517.0,701.5 525.3,698.8 533.4,694.4 541.4,690.4 549.4,685.4 557.5,681.3 565.5,677.3 573.6,673.3 581.6,668.3 589.7,664.2 597.7,661.8 606.0,657.8 612.0,656.2 624.0,655.2 636.2,652.6 648.3,652.6 660.4,653.6 672.4,653.8 684.5,655.2 696.6,655.2 708.6,656.2 718.7,657.8 728.7,656.2 740.8,654.8 748.9,653.2 756.9,651.2 765.0,649.8 773.0,647.7 781.0,646.0 789.0,644.7 797.0,643.5 805.0,642.0 813.0,641.5 821.0,641.3 829.0,642.0 837.4,643.7 845.4,645.3 853.5,647.7 861.5,649.2 869.6,651.4 877.6,653.4 885.7,653.4 893.7,652.2 901.8,650.2 908.0,647.7 916.0,646.0 924.0,643.7 932.0,641.7 940.0,640.5 950.3,640.5 958.3,642.0 966.4,644.5 974.4,648.0 982.5,652.2 990.5,656.2 998.6,659.2 1006.6,661.2 1014.7,663.8 1022.7,665.3 1032.8,665.3 1042.8,664.6 1050.9,663.2 1058.9,660.2 1067.0,656.2 1075.0,653.2 1083.0,651.2 1091.0,649.8 1101.0,649.2 1111.0,650.2 1119.3,651.8 1127.3,655.2 1135.4,658.2 1143.4,661.2 1151.5,665.3 1159.5,668.7 1165.5,671.3 1171.6,672.3 1177.6,674.7" fill="none" stroke="#ff0000" stroke-width="1" stroke-linejoin="round" mask="url(#dm)"/>
</g>
<g clip-path="url(#cr)" class="ce">
<line x1="6" y1="753.5" x2="1494" y2="753.5" stroke="#c0c0c0" stroke-width="1" stroke-dasharray="3 3"/>
<line x1="6" y1="793.5" x2="1494" y2="793.5" stroke="#c0c0c0" stroke-width="1" stroke-dasharray="3 3"/>
<polyline points="5.0,768.0 13.0,771.4 22.0,766.2 30.0,766.2 37.6,763.3 45.4,761.5 54.5,761.5 62.3,764.0 70.0,766.7 77.9,768.3 85.7,768.3 93.0,767.2 101.8,760.2 109.0,759.5 116.8,759.5 125.0,757.6 133.0,768.0 141.5,773.2 150.0,780.2 158.3,778.4 166.0,777.6 174.0,776.3 181.2,777.0 189.5,783.6 197.8,790.0 205.0,791.4 213.4,786.5 221.2,790.0 229.7,786.2 236.7,783.3 246.0,790.6 253.0,789.3 260.9,785.4 268.7,783.9 277.2,786.5 285.5,784.4 293.3,786.5 301.0,781.8 309.4,788.5 317.2,785.4 325.8,780.5 333.5,783.3 341.3,781.3 349.0,779.2 357.7,786.2 365.5,791.9 372.5,793.5 381.0,791.0 389.4,793.5 397.8,789.6 405.6,786.2 413.4,783.3 422.4,783.3 428.9,785.4 438.0,789.6 445.0,792.7 453.6,790.6 461.4,792.7 470.0,784.4 477.7,781.3 485.5,775.5 493.3,775.5 501.6,781.5 509.4,775.5 517.2,773.5 525.0,771.4 533.3,770.4 541.9,765.4 549.6,767.5 557.4,766.7 565.2,764.6 573.0,760.5 582.0,760.5 589.9,764.0 597.7,771.4 606.0,775.5 613.8,772.4 621.5,773.5 630.0,764.6 637.9,760.5 645.7,769.3 654.2,775.5 661.3,772.4 669.8,778.7 677.6,774.5 685.9,773.5 693.7,769.3 701.5,767.5 709.3,765.4 717.6,770.4 726.0,767.5 733.9,766.5 741.7,766.5 749.5,758.4 757.3,761.5 765.9,763.6 773.6,767.5 781.4,764.6 789.0,767.5 796.9,764.0 804.7,767.5 813.2,766.2 821.5,770.6 829.8,774.0 837.6,783.3 845.4,777.0 853.2,773.2 861.8,769.3 869.6,772.7 877.3,762.8 885.0,753.2 893.7,760.2 900.7,762.0 909.0,766.7 917.6,773.7 925.4,770.4 933.0,773.7 941.5,772.4 949.2,775.5 957.0,774.5 965.6,777.6 973.4,779.7 981.2,782.6 989.7,778.4 997.5,775.5 1005.8,770.6 1013.6,769.3 1021.4,768.3 1029.7,766.2 1037.5,765.4 1045.3,764.0 1053.9,761.5 1061.6,758.4 1069.4,762.8 1078.0,765.4 1085.8,777.6 1093.6,775.5 1101.9,780.2 1109.7,782.6 1117.4,781.3 1125.2,782.6 1133.5,776.3 1141.3,778.4 1149.0,779.7 1157.7,785.4 1165.5,783.3 1173.3,777.6 1181.0,775.5" fill="none" stroke="#1e90ff" stroke-width="1" stroke-linejoin="round"/>
</g>
<g class="ce">
<rect x="1495" y="59" width="2" height="1" fill="#000"/>
<rect x="1495" y="92" width="2" height="1" fill="#000"/>
<rect x="1495" y="125" width="2" height="1" fill="#000"/>
<rect x="1495" y="158" width="2" height="1" fill="#000"/>
<rect x="1495" y="191" width="2" height="1" fill="#000"/>
<rect x="1495" y="224" width="2" height="1" fill="#000"/>
<rect x="1495" y="257" width="2" height="1" fill="#000"/>
<rect x="1495" y="291" width="2" height="1" fill="#000"/>
<rect x="1495" y="324" width="2" height="1" fill="#000"/>
<rect x="1495" y="357" width="2" height="1" fill="#000"/>
<rect x="1495" y="390" width="2" height="1" fill="#000"/>
<rect x="1495" y="423" width="2" height="1" fill="#000"/>
<rect x="1495" y="456" width="2" height="1" fill="#000"/>
<rect x="1495" y="489" width="2" height="1" fill="#000"/>
<rect x="1495" y="522" width="2" height="1" fill="#000"/>
<rect x="1495" y="555" width="2" height="1" fill="#000"/>
<rect x="1495" y="588" width="2" height="1" fill="#000"/>
<rect x="1495" y="621" width="2" height="1" fill="#000"/>
<rect x="1495" y="664" width="2" height="1" fill="#000"/>
<rect x="5" y="824" width="1" height="3" fill="#000"/>
<rect x="69" y="824" width="1" height="3" fill="#000"/>
<rect x="133" y="824" width="1" height="3" fill="#000"/>
<rect x="197" y="824" width="1" height="3" fill="#000"/>
<rect x="261" y="824" width="1" height="3" fill="#000"/>
<rect x="325" y="824" width="1" height="3" fill="#000"/>
<rect x="389" y="824" width="1" height="3" fill="#000"/>
<rect x="453" y="824" width="1" height="3" fill="#000"/>
<rect x="517" y="824" width="1" height="3" fill="#000"/>
<rect x="581" y="824" width="1" height="3" fill="#000"/>
<rect x="645" y="824" width="1" height="3" fill="#000"/>
<rect x="709" y="824" width="1" height="3" fill="#000"/>
<rect x="773" y="824" width="1" height="3" fill="#000"/>
<rect x="837" y="824" width="1" height="3" fill="#000"/>
<rect x="901" y="824" width="1" height="3" fill="#000"/>
<rect x="965" y="824" width="1" height="3" fill="#000"/>
<rect x="1029" y="824" width="1" height="3" fill="#000"/>
<rect x="1093" y="824" width="1" height="3" fill="#000"/>
<rect x="1157" y="824" width="1" height="3" fill="#000"/>
<rect x="1496" y="361" width="41" height="11" fill="#000"/>
<rect x="1494" y="753" width="1" height="1" fill="#fff"/>
<rect x="1494" y="793" width="1" height="1" fill="#fff"/>
</g>
<text x="1500" y="63.0" font-size="10.2" fill="#000" stroke="#000" stroke-width="0.18" textLength="33.4" lengthAdjust="spacingAndGlyphs">0.71980</text>
<text x="1500" y="96.0" font-size="10.2" fill="#000" stroke="#000" stroke-width="0.18" textLength="33.4" lengthAdjust="spacingAndGlyphs">0.71860</text>
<text x="1500" y="129.0" font-size="10.2" fill="#000" stroke="#000" stroke-width="0.18" textLength="33.4" lengthAdjust="spacingAndGlyphs">0.71745</text>
<text x="1500" y="162.0" font-size="10.2" fill="#000" stroke="#000" stroke-width="0.18" textLength="33.4" lengthAdjust="spacingAndGlyphs">0.71625</text>
<text x="1500" y="195.0" font-size="10.2" fill="#000" stroke="#000" stroke-width="0.18" textLength="33.4" lengthAdjust="spacingAndGlyphs">0.71510</text>
<text x="1500" y="228.0" font-size="10.2" fill="#000" stroke="#000" stroke-width="0.18" textLength="33.4" lengthAdjust="spacingAndGlyphs">0.71390</text>
<text x="1500" y="261.0" font-size="10.2" fill="#000" stroke="#000" stroke-width="0.18" textLength="33.4" lengthAdjust="spacingAndGlyphs">0.71275</text>
<text x="1500" y="295.0" font-size="10.2" fill="#000" stroke="#000" stroke-width="0.18" textLength="33.4" lengthAdjust="spacingAndGlyphs">0.71155</text>
<text x="1500" y="328.0" font-size="10.2" fill="#000" stroke="#000" stroke-width="0.18" textLength="33.4" lengthAdjust="spacingAndGlyphs">0.71035</text>
<text x="1500" y="361.0" font-size="10.2" fill="#000" stroke="#000" stroke-width="0.18" textLength="33.4" lengthAdjust="spacingAndGlyphs">0.70920</text>
<text x="1500" y="394.0" font-size="10.2" fill="#000" stroke="#000" stroke-width="0.18" textLength="33.4" lengthAdjust="spacingAndGlyphs">0.70800</text>
<text x="1500" y="427.0" font-size="10.2" fill="#000" stroke="#000" stroke-width="0.18" textLength="33.4" lengthAdjust="spacingAndGlyphs">0.70685</text>
<text x="1500" y="460.0" font-size="10.2" fill="#000" stroke="#000" stroke-width="0.18" textLength="33.4" lengthAdjust="spacingAndGlyphs">0.70565</text>
<text x="1500" y="493.0" font-size="10.2" fill="#000" stroke="#000" stroke-width="0.18" textLength="33.4" lengthAdjust="spacingAndGlyphs">0.70450</text>
<text x="1500" y="526.0" font-size="10.2" fill="#000" stroke="#000" stroke-width="0.18" textLength="33.4" lengthAdjust="spacingAndGlyphs">0.70330</text>
<text x="1500" y="559.0" font-size="10.2" fill="#000" stroke="#000" stroke-width="0.18" textLength="33.4" lengthAdjust="spacingAndGlyphs">0.70215</text>
<text x="1500" y="592.0" font-size="10.2" fill="#000" stroke="#000" stroke-width="0.18" textLength="33.4" lengthAdjust="spacingAndGlyphs">0.70095</text>
<text x="1500" y="625.0" font-size="10.2" fill="#000" stroke="#000" stroke-width="0.18" textLength="33.4" lengthAdjust="spacingAndGlyphs">0.69980</text>
<text x="1500" y="370.2" font-size="10.2" fill="#fff" stroke="#fff" stroke-width="0.18" textLength="33.4" lengthAdjust="spacingAndGlyphs">0.70888</text>
<text x="1498.3" y="636.6" font-size="10.2" fill="#000" stroke="#000" stroke-width="0.18" textLength="37.3" lengthAdjust="spacingAndGlyphs">0.001568</text>
<text x="1498.3" y="667.8" font-size="10.2" fill="#000" stroke="#000" stroke-width="0.18" textLength="17.8" lengthAdjust="spacingAndGlyphs">0.00</text>
<text x="1498.3" y="717.1" font-size="10.2" fill="#000" stroke="#000" stroke-width="0.18" textLength="39.8" lengthAdjust="spacingAndGlyphs">-0.002371</text>
<text x="1498.6" y="732.9" font-size="10.2" fill="#000" stroke="#000" stroke-width="0.18" textLength="14.3" lengthAdjust="spacingAndGlyphs">100</text>
<text x="1498.6" y="757" font-size="10.2" fill="#000" stroke="#000" stroke-width="0.18" textLength="9.5" lengthAdjust="spacingAndGlyphs">70</text>
<text x="1498.6" y="797" font-size="10.2" fill="#000" stroke="#000" stroke-width="0.18" textLength="9.5" lengthAdjust="spacingAndGlyphs">30</text>
<text x="1498.6" y="820.2" font-size="10.2" fill="#000" stroke="#000" stroke-width="0.18" textLength="4.8" lengthAdjust="spacingAndGlyphs">0</text>
<text x="4" y="836" font-size="10.2" fill="#000" stroke="#000" stroke-width="0.18" textLength="52.1" lengthAdjust="spacingAndGlyphs">22 Feb 2019</text>
<text x="68" y="836" font-size="10.2" fill="#000" stroke="#000" stroke-width="0.18" textLength="54.6" lengthAdjust="spacingAndGlyphs">26 Feb 00:00</text>
<text x="132" y="836" font-size="10.2" fill="#000" stroke="#000" stroke-width="0.18" textLength="54.6" lengthAdjust="spacingAndGlyphs">27 Feb 08:00</text>
<text x="196" y="836" font-size="10.2" fill="#000" stroke="#000" stroke-width="0.18" textLength="54.6" lengthAdjust="spacingAndGlyphs">28 Feb 16:00</text>
<text x="260" y="836" font-size="10.2" fill="#000" stroke="#000" stroke-width="0.18" textLength="49.5" lengthAdjust="spacingAndGlyphs">4 Mar 00:00</text>
<text x="324" y="836" font-size="10.2" fill="#000" stroke="#000" stroke-width="0.18" textLength="49.5" lengthAdjust="spacingAndGlyphs">5 Mar 08:00</text>
<text x="388" y="836" font-size="10.2" fill="#000" stroke="#000" stroke-width="0.18" textLength="49.5" lengthAdjust="spacingAndGlyphs">6 Mar 16:00</text>
<text x="452" y="836" font-size="10.2" fill="#000" stroke="#000" stroke-width="0.18" textLength="49.5" lengthAdjust="spacingAndGlyphs">8 Mar 00:00</text>
<text x="516" y="836" font-size="10.2" fill="#000" stroke="#000" stroke-width="0.18" textLength="53.9" lengthAdjust="spacingAndGlyphs">11 Mar 08:00</text>
<text x="580" y="836" font-size="10.2" fill="#000" stroke="#000" stroke-width="0.18" textLength="54.6" lengthAdjust="spacingAndGlyphs">12 Mar 16:00</text>
<text x="644" y="836" font-size="10.2" fill="#000" stroke="#000" stroke-width="0.18" textLength="54.6" lengthAdjust="spacingAndGlyphs">14 Mar 00:00</text>
<text x="708" y="836" font-size="10.2" fill="#000" stroke="#000" stroke-width="0.18" textLength="54.6" lengthAdjust="spacingAndGlyphs">15 Mar 08:00</text>
<text x="772" y="836" font-size="10.2" fill="#000" stroke="#000" stroke-width="0.18" textLength="54.6" lengthAdjust="spacingAndGlyphs">18 Mar 16:00</text>
<text x="836" y="836" font-size="10.2" fill="#000" stroke="#000" stroke-width="0.18" textLength="54.6" lengthAdjust="spacingAndGlyphs">20 Mar 00:00</text>
<text x="900" y="836" font-size="10.2" fill="#000" stroke="#000" stroke-width="0.18" textLength="54.6" lengthAdjust="spacingAndGlyphs">21 Mar 08:00</text>
<text x="964" y="836" font-size="10.2" fill="#000" stroke="#000" stroke-width="0.18" textLength="54.6" lengthAdjust="spacingAndGlyphs">22 Mar 16:00</text>
<text x="1028" y="836" font-size="10.2" fill="#000" stroke="#000" stroke-width="0.18" textLength="54.6" lengthAdjust="spacingAndGlyphs">26 Mar 00:00</text>
<text x="1092" y="836" font-size="10.2" fill="#000" stroke="#000" stroke-width="0.18" textLength="54.6" lengthAdjust="spacingAndGlyphs">27 Mar 08:00</text>
<text x="1156" y="836" font-size="10.2" fill="#000" stroke="#000" stroke-width="0.18" textLength="54.6" lengthAdjust="spacingAndGlyphs">28 Mar 16:00</text>
<text x="20.6" y="40.9" font-size="10.2" fill="#000" stroke="#000" stroke-width="0.18" textLength="55.2" lengthAdjust="spacingAndGlyphs">AUDUSD,H4</text>
<text x="82" y="40.9" font-size="10.2" fill="#000" stroke="#000" stroke-width="0.18" textLength="32.3" lengthAdjust="spacingAndGlyphs">0.70852</text>
<text x="118.1" y="40.9" font-size="10.2" fill="#000" stroke="#000" stroke-width="0.18" textLength="32.3" lengthAdjust="spacingAndGlyphs">0.70900</text>
<text x="154.3" y="40.9" font-size="10.2" fill="#000" stroke="#000" stroke-width="0.18" textLength="32.3" lengthAdjust="spacingAndGlyphs">0.70736</text>
<text x="190.3" y="40.9" font-size="10.2" fill="#000" stroke="#000" stroke-width="0.18" textLength="32.3" lengthAdjust="spacingAndGlyphs">0.70888</text>
<path d="M8 40 L15 40 L11.5 36 Z" fill="#000"/>
<text x="9.1" y="638.9" font-size="10.2" fill="#000" stroke="#000" stroke-width="0.18" textLength="66.2" lengthAdjust="spacingAndGlyphs">MACD(12,26,9)</text>
<text x="78.6" y="638.9" font-size="10.2" fill="#000" stroke="#000" stroke-width="0.18" textLength="40.1" lengthAdjust="spacingAndGlyphs">-0.000637</text>
<text x="122.8" y="638.9" font-size="10.2" fill="#000" stroke="#000" stroke-width="0.18" textLength="40.2" lengthAdjust="spacingAndGlyphs">-0.000468</text>
<text x="9.0" y="734.9" font-size="10.2" fill="#000" stroke="#000" stroke-width="0.18" textLength="31.2" lengthAdjust="spacingAndGlyphs">RSI(14)</text>
<text x="44.7" y="734.9" font-size="10.2" fill="#000" stroke="#000" stroke-width="0.18" textLength="31.9" lengthAdjust="spacingAndGlyphs">47.6511</text>
<g opacity="0.99">
<text x="-4.5" y="17" font-size="10.2" fill="#404040" stroke="#404040" stroke-width="0" textLength="17.5" lengthAdjust="spacingAndGlyphs">M15</text>
<text x="23.6" y="17" font-size="10.2" fill="#404040" stroke="#404040" stroke-width="0" textLength="17.7" lengthAdjust="spacingAndGlyphs">M30</text>
<text x="54.5" y="17" font-size="10.2" fill="#404040" stroke="#404040" stroke-width="0" textLength="11.7" lengthAdjust="spacingAndGlyphs">H1</text>
<text x="81.5" y="17" font-size="10.2" fill="#404040" stroke="#404040" stroke-width="0" textLength="12.2" lengthAdjust="spacingAndGlyphs">H4</text>
<text x="110.6" y="17" font-size="10.2" fill="#404040" stroke="#404040" stroke-width="0" textLength="11.4" lengthAdjust="spacingAndGlyphs">D1</text>
<text x="137.8" y="17" font-size="10.2" fill="#404040" stroke="#404040" stroke-width="0" textLength="14" lengthAdjust="spacingAndGlyphs">W1</text>
<text x="164.8" y="17" font-size="10.2" fill="#404040" stroke="#404040" stroke-width="0" textLength="14.6" lengthAdjust="spacingAndGlyphs">MN</text>
</g>
</svg>
<div style="position:absolute;left:5px;top:47px;width:224px;height:68px;background:#fff"></div>
<div style="position:absolute;left:8px;top:49px;width:219px;height:64px;background:linear-gradient(#5555ff 0%,#4545ee 30%,#2b2bd3 55%,#0808ae 85%,#0000a6 100%);clip-path:polygon(0 0,52px 0,52px 24px,109px 24px,109px 64px,0 64px)"></div>
<div style="position:absolute;left:8px;top:49px;width:219px;height:64px;background:linear-gradient(#5555ff 0%,#4545ee 30%,#2b2bd3 55%,#0808ae 85%,#0000a6 100%);clip-path:polygon(167px 0,219px 0,219px 64px,111px 64px,111px 24px,167px 24px)"></div>
<div style="position:absolute;left:12px;top:72px;width:44px;height:1px;background:#1a1aa8"></div>
<div style="position:absolute;left:12px;top:73px;width:44px;height:1px;background:#7d7df0"></div>
<div style="position:absolute;left:179px;top:72px;width:44px;height:1px;background:#1a1aa8"></div>
<div style="position:absolute;left:179px;top:73px;width:44px;height:1px;background:#7d7df0"></div>
<div style="position:absolute;left:62px;top:49px;width:111px;height:22px;box-sizing:border-box;border:1px solid #ababab;background:#fff"></div>
<div style="position:absolute;left:63px;top:50px;width:20px;height:20px;background:linear-gradient(#f3f3f3,#e6e6e6 45%,#d8d8d8 55%,#d2d2d2);border-right:1px solid #ababab"></div>
<div style="position:absolute;left:151px;top:50px;width:21px;height:20px;background:linear-gradient(#f3f3f3,#e6e6e6 45%,#d8d8d8 55%,#d2d2d2);border-left:1px solid #ababab"></div>
<svg width="1541" height="844" viewBox="0 0 1541 844" style="pointer-events:none">
<path d="M70.2 58.3 L75.8 58.3 L73 61.5 Z" fill="#5068b8"/>
<path d="M159.2 61.2 L164.8 61.2 L162 58 Z" fill="#5068b8"/>
<text x="20.6" y="65" font-size="12.4" fill="#eeeeff" textLength="25.4" lengthAdjust="spacingAndGlyphs">SELL</text>
<text x="188.9" y="65" font-size="12.4" fill="#eeeeff" textLength="23.2" lengthAdjust="spacingAndGlyphs">BUY</text>
<text x="124.7" y="64.2" font-size="12.2" fill="#000" textLength="22.6" lengthAdjust="spacingAndGlyphs">1.00</text>
<text x="27.9" y="103.7" font-size="11.8" font-weight="bold" fill="#fff" textLength="23.9" lengthAdjust="spacingAndGlyphs">0.70</text>
<text x="137.9" y="103.7" font-size="11.8" font-weight="bold" fill="#fff" textLength="23.9" lengthAdjust="spacingAndGlyphs">0.70</text>
<mask id="mk" maskUnits="userSpaceOnUse" x="0" y="0" width="300" height="130"><rect x="0" y="0" width="300" height="130" fill="#000"/>
<text x="55.3" y="104.1" font-size="34.8" fill="#fff" stroke="#000" stroke-width="0.4" textLength="35.8" lengthAdjust="spacingAndGlyphs">88</text>
<text x="165.7" y="104.1" font-size="34.8" fill="#fff" stroke="#000" stroke-width="0.4" textLength="36.4" lengthAdjust="spacingAndGlyphs">90</text></mask>
<rect x="50" y="75" width="160" height="35" fill="#fff" mask="url(#mk)"/>
<text x="95.3" y="88.3" font-size="11.8" font-weight="bold" fill="#fff" textLength="6.7" lengthAdjust="spacingAndGlyphs">8</text>
<text x="206.8" y="88.3" font-size="11.8" font-weight="bold" fill="#fff" textLength="6.4" lengthAdjust="spacingAndGlyphs">5</text>
</svg>
</body></html>
